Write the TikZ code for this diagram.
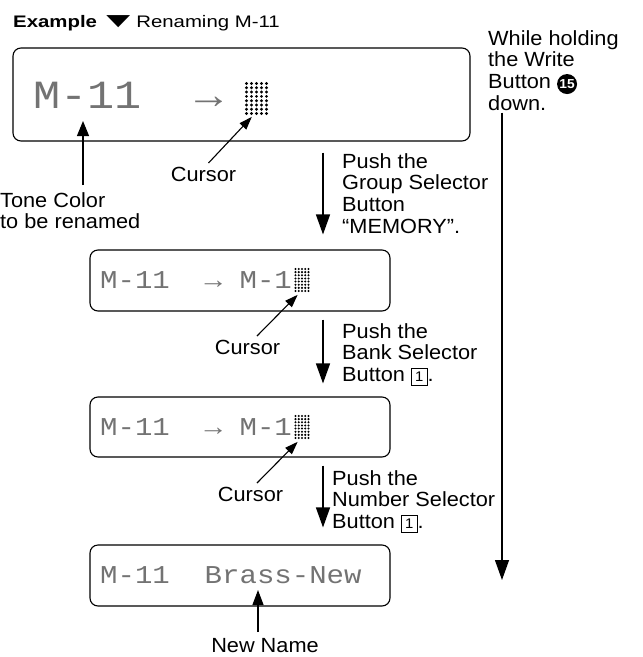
\documentclass[tikz,border=0pt]{standalone}
\usepackage{fontspec}
\setmainfont{Liberation Sans}[FakeStretch=1.06]
\newfontfamily\titlefont{Liberation Sans}[FakeStretch=1.22]
\newfontfamily\lcdfont{Liberation Mono}[FakeStretch=1.13]
\usetikzlibrary{arrows.meta}

\newcommand{\keybox}[1]{{\setlength{\fboxsep}{3.2pt}\setlength{\fboxrule}{0.9pt}\fbox{\fontsize{14}{14}\selectfont #1}}}
\newcommand{\circnum}[1]{\tikz[baseline=(cn.base)] \node[circle, fill=black, text=white, inner sep=0pt, minimum size=20pt, font=\fontsize{13}{13}\selectfont\bfseries] (cn) {#1};}
% name, centre, dx, dy, dot radius
\newcommand{\lcdcursor}[5]{%
  \node[inner sep=0pt, minimum width=5*#3, minimum height=8*#4] (#1) at (#2) {};
  \foreach \i in {0,...,4}
    \foreach \j in {0,...,7}
      \fill[lcddot] ([xshift={(\i-2)*#3}, yshift={(\j-3.5)*#4}]#1.center) circle (#5);
}

\begin{document}
\begin{tikzpicture}[x=1pt, y=-1pt,
  lbl/.style={font=\fontsize{20.5}{21.7}\selectfont, align=left, inner sep=0pt},
  lcdbox/.style={draw, rounded corners=8pt, line width=1.1pt, inner sep=0pt},
  lcdtext/.style={font=\lcdfont\fontsize{#1}{#1}\selectfont, text=black!55, inner sep=0pt, anchor=west},
  lcddot/.style={black},
  bigarrow/.style={line width=1.3pt, -{Triangle[length=20pt, width=14pt]}},
  ptr/.style={line width=1.1pt, -{Triangle[length=13pt, width=9pt]}}]

  \useasboundingbox (0,0) rectangle (643,657);

  % Title
  \node[font=\titlefont\fontsize{16.7}{20}\selectfont, anchor=base west, inner sep=0pt] (title) at (13,27)
    {\textbf{Example}\hspace{1pt}\scalebox{2}[1.25]{▼}\hspace{-2pt}Renaming M-11};

  % LCD panels
  \node[lcdbox, minimum width=457pt, minimum height=93pt] (box1) at (241.5,94.5) {};
  \node[lcdbox, minimum width=300pt, minimum height=61pt] (box2) at (240,280.5) {};
  \node[lcdbox, minimum width=300pt, minimum height=60pt] (box3) at (240,427) {};
  \node[lcdbox, minimum width=300pt, minimum height=61pt] (box4) at (240,575.5) {};

  \node[lcdtext=40] (lcd1) at (33,95) {M-11~~→};
  \node[lcdtext=25.7] (lcd2) at (100,280.5) {M-11~~→~M-1};
  \node[lcdtext=25.7] (lcd3) at (100,427) {M-11~~→~M-1};
  \node[lcdtext=25.7] (lcd4) at (100,575.5) {M-11~~Brass-New};

  % Cursor blocks
  \lcdcursor{cur1}{256.5,98.5}{5pt}{4.3pt}{1.6pt}
  \lcdcursor{cur2}{302,280}{3.25pt}{3.15pt}{1.15pt}
  \lcdcursor{cur3}{302,427}{3.25pt}{3.15pt}{1.15pt}

  % Labels
  \node[lbl, anchor=north west] (tone) at (0,192) {Tone Color\\to be renamed};
  \node[lbl, anchor=north] (cur1lbl) at (203.5,167) {Cursor};
  \node[lbl, anchor=north] (cur2lbl) at (247.5,340) {Cursor};
  \node[lbl, anchor=north] (cur3lbl) at (250.5,487) {Cursor};
  \node[lbl, anchor=north] (newname) at (265,638) {New Name};
  \node[lbl, anchor=north west] (push1) at (342,153) {Push the\\Group Selector\\Button\\“MEMORY”.};
  \node[lbl, anchor=north west] (push2) at (342,323) {Push the\\Bank Selector\\Button \keybox{1}.};
  \node[lbl, anchor=north west] (push3) at (332,470) {Push the\\Number Selector\\Button \keybox{1}.};
  \node[lbl, anchor=north west] (holding) at (488,30) {While holding\\the Write\\Button \circnum{15}\\down.};

  % Pointers into the display
  \coordinate (tonetip) at (83,121);
  \coordinate (newtip) at (258,590);
  \draw[ptr, -{Triangle[length=15pt, width=12pt]}, shorten <=7pt] (tone.north -| tonetip) -- (tonetip);
  \draw[ptr] ([xshift=5pt, yshift=4pt]cur1lbl.north) -- ([xshift=8pt, yshift=-1pt]cur1.south west);
  \draw[ptr] ([xshift=9.5pt, yshift=4pt]cur2lbl.north) -- ([xshift=4pt, yshift=-2pt]cur2.south west);
  \draw[ptr] ([xshift=6.5pt, yshift=4pt]cur3lbl.north) -- ([xshift=4pt, yshift=-2pt]cur3.south west);
  \draw[ptr, -{Triangle[length=15pt, width=11pt]}, shorten <=6pt] (newname.north -| newtip) -- (newtip);

  % Step arrows
  \coordinate (ax) at (323,0);
  \draw[bigarrow, shorten <=11pt, shorten >=15pt] (box1.south -| ax) -- (box2.north -| ax);
  \draw[bigarrow, shorten <=8pt, shorten >=13pt] (box2.south -| ax) -- (box3.north -| ax);
  \draw[bigarrow, shorten <=8pt, shorten >=17pt] (box3.south -| ax) -- (box4.north -| ax);

  % Hold line
  \coordinate (holdend) at (502,580);
  \draw[bigarrow, shorten <=2pt] (holding.south -| holdend) -- (holdend);
\end{tikzpicture}
\end{document}
